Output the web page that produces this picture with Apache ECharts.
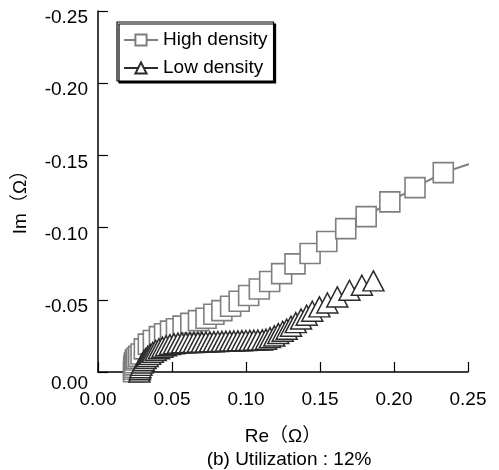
<!DOCTYPE html>
<html>
<head>
<meta charset="utf-8">
<script src="https://cdn.jsdelivr.net/npm/echarts@6/dist/echarts.min.js"></script>
<style>
html,body{margin:0;padding:0;background:#fff;}
#c{width:499px;height:470px;}
</style>
</head>
<body>
<div id="c"></div>
<script>
// ---- data (Nyquist plot, Re vs Im in ohm) ----
var seriesNames = ['High density', 'Low density'];
var highRe = [0.0240,0.0241,0.0242,0.0244,0.0247,0.0252,0.0262,0.0275,0.0291,0.0313,0.0340,0.0374,0.0415,0.0450,0.0490,0.0530,0.0575,0.0627,0.0679,0.0730,0.0783,0.0837,0.0896,0.0954,0.1018,0.1090,0.1160,0.1241,0.1331,0.1433,0.1546,0.1674,0.1812,0.1972,0.2142,0.2333,0.2568];
var highIm = [-0.0002,-0.0019,-0.0033,-0.0049,-0.0064,-0.0083,-0.0095,-0.0108,-0.0125,-0.0160,-0.0193,-0.0218,-0.0245,-0.0265,-0.0283,-0.0300,-0.0318,-0.0337,-0.0356,-0.0372,-0.0400,-0.0425,-0.0455,-0.0490,-0.0530,-0.0575,-0.0627,-0.0681,-0.0749,-0.0821,-0.0904,-0.0993,-0.1076,-0.1178,-0.1277,-0.1381,-0.1460];
var lowRe = [0.0280,0.0283,0.0287,0.0293,0.0300,0.0310,0.0322,0.0336,0.0352,0.0370,0.0390,0.0412,0.0435,0.0460,0.0486,0.0513,0.0540,0.0567,0.0594,0.0621,0.0648,0.0675,0.0702,0.0729,0.0756,0.0783,0.0810,0.0837,0.0864,0.0891,0.0918,0.0945,0.0972,0.0999,0.1026,0.1053,0.1080,0.1110,0.1135,0.1162,0.1191,0.1218,0.1248,0.1275,0.1304,0.1336,0.1372,0.1410,0.1448,0.1496,0.1550,0.1617,0.1699,0.1783,0.1861];
var lowIm = [-0.0000,-0.0015,-0.0030,-0.0046,-0.0062,-0.0078,-0.0093,-0.0108,-0.0122,-0.0136,-0.0149,-0.0161,-0.0172,-0.0182,-0.0190,-0.0196,-0.0200,-0.0202,-0.0203,-0.0204,-0.0205,-0.0206,-0.0207,-0.0208,-0.0209,-0.0210,-0.0211,-0.0212,-0.0213,-0.0214,-0.0215,-0.0216,-0.0217,-0.0218,-0.0219,-0.0220,-0.0221,-0.0222,-0.0227,-0.0238,-0.0250,-0.0266,-0.0282,-0.0296,-0.0317,-0.0342,-0.0367,-0.0393,-0.0421,-0.0451,-0.0478,-0.0520,-0.0566,-0.0601,-0.0631];
var xTicks = [0.00, 0.05, 0.10, 0.15, 0.20, 0.25];
var yTicks = [0.00, -0.05, -0.10, -0.15, -0.20, -0.25];
var xTitle = 'Re\uFF08\u03A9\uFF09';
var yTitle = 'Im\uFF08\u03A9\uFF09';
var caption = '(b) Utilization : 12%';

var FONT = "'Liberation Sans', Arial, 'Noto Sans CJK SC', sans-serif";

function pairs(xs, ys, lastNoSymbol) {
  return xs.map(function (x, i) {
    var item = { value: [x, ys[i]] };
    if (lastNoSymbol && i === xs.length - 1) item.symbol = 'none';
    return item;
  });
}
function fmt(v) {
  if (Math.abs(v) < 1e-9) return '0.00';
  return v.toFixed(2);
}
function fmtY(v) {
  if (Math.abs(v) < 1e-9) return '{z|0.00}';
  return v.toFixed(2);
}

var chart = echarts.init(document.getElementById('c'), null, { renderer: 'canvas' });
chart.setOption({
  animation: false,
  backgroundColor: '#fff',
  textStyle: { fontFamily: FONT },
  grid: { left: 98, right: 31, top: 11, bottom: 98, containLabel: false },
  title: {
    text: caption,
    left: 284, top: 445,
    textAlign: 'center',
    textStyle: { fontFamily: FONT, fontSize: 19, fontWeight: 'normal', color: '#000' }
  },
  legend: {
    orient: 'vertical',
    left: 117, top: 22,
    padding: [8, 6, 3, 6],
    itemGap: 8,
    itemWidth: 34, itemHeight: 14,
    borderColor: '#000', borderWidth: 1.2,
    backgroundColor: '#fff',
    shadowColor: '#000', shadowBlur: 0, shadowOffsetX: 2, shadowOffsetY: 2,
    textStyle: { fontFamily: FONT, fontSize: 19, color: '#000', lineHeight: 20 },
    data: seriesNames
  },
  xAxis: {
    type: 'value',
    min: xTicks[0], max: xTicks[xTicks.length - 1], interval: 0.05,
    name: xTitle, nameLocation: 'middle', nameGap: 55,
    nameTextStyle: { fontFamily: FONT, fontSize: 19, color: '#000' },
    axisLine: { onZero: false, lineStyle: { color: '#000', width: 1.5 } },
    axisTick: { inside: true, length: 10, lineStyle: { color: '#000', width: 1.2 } },
    axisLabel: { fontFamily: FONT, fontSize: 19, color: '#000', margin: 18, formatter: fmt },
    splitLine: { show: false }
  },
  yAxis: {
    type: 'value',
    inverse: true,
    min: yTicks[yTicks.length - 1], max: yTicks[0], interval: 0.05,
    name: yTitle, nameLocation: 'middle', nameGap: 68, nameRotate: 90,
    nameTextStyle: { fontFamily: FONT, fontSize: 19, color: '#000', padding: [0, 12, 0, 0] },
    axisLine: { onZero: false, lineStyle: { color: '#000', width: 1.5 } },
    axisTick: { inside: true, length: 10, lineStyle: { color: '#000', width: 1.2 } },
    axisLabel: {
      fontFamily: FONT, fontSize: 19, color: '#000', margin: 10,
      verticalAlign: 'middle', padding: [14, 0, 0, 0],
      formatter: fmtY,
      rich: { z: { fontFamily: FONT, fontSize: 19, color: '#000', padding: [10, 0, 0, 0] } }
    },
    splitLine: { show: false }
  },
  series: [
    {
      name: seriesNames[0],
      type: 'line',
      clip: false,
      symbol: 'rect',
      symbolSize: 20,
      showAllSymbol: true,
      itemStyle: { color: '#fff', borderColor: '#7f7f7f', borderWidth: 1.6 },
      lineStyle: { color: '#7f7f7f', width: 2 },
      data: pairs(highRe, highIm, true)
    },
    {
      name: seriesNames[1],
      type: 'line',
      clip: false,
      symbol: 'triangle',
      symbolSize: [21, 20],
      showAllSymbol: true,
      itemStyle: { color: '#fff', borderColor: '#2b2b2b', borderWidth: 1.5 },
      lineStyle: { color: '#2b2b2b', width: 1.5 },
      data: pairs(lowRe, lowIm, false)
    }
  ]
});
</script>
</body>
</html>
